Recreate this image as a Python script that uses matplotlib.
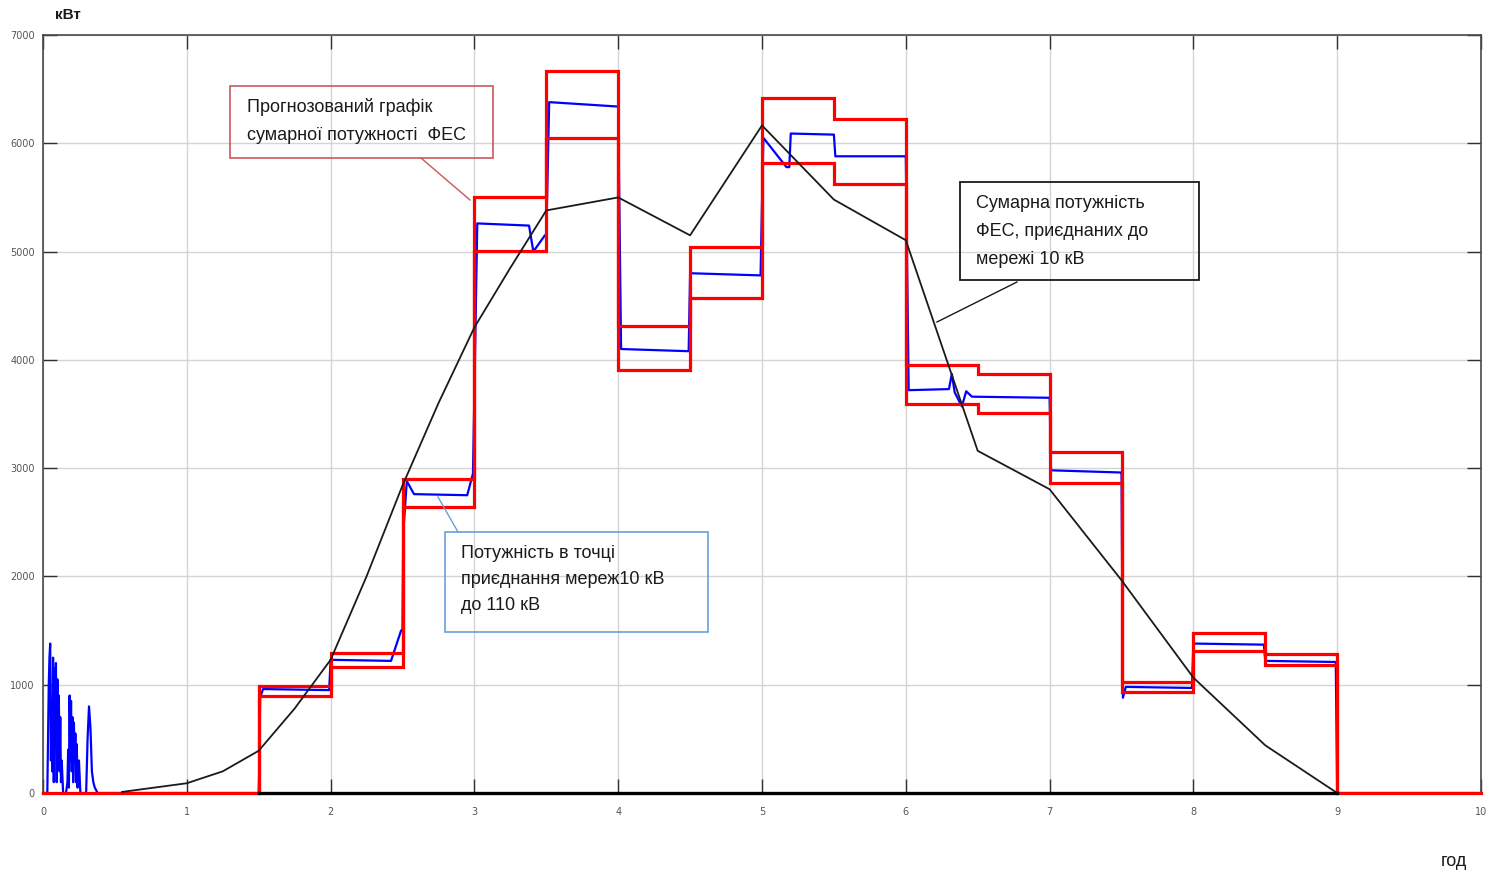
import matplotlib
matplotlib.use("Agg")
import matplotlib.pyplot as plt
from matplotlib.patches import Rectangle
from matplotlib.lines import Line2D

# ---------------- data ----------------
# half-hour forecast band (red): segment edges, upper and lower limits, kW
band_edges = [1.5, 2.0, 2.5, 3.0, 3.5, 4.0, 4.5, 5.0, 5.5, 6.0, 6.5, 7.0, 7.5, 8.0, 8.5, 9.0]
band_upper = [985, 1290, 2900, 5504, 6667, 4312, 5042, 6418, 6220, 3950, 3865, 3149, 1025, 1477, 1283]
band_lower = [900, 1165, 2640, 5004, 6045, 3906, 4571, 5818, 5624, 3592, 3509, 2863, 933, 1311, 1182]

# total power of PV plants connected to 10 kV (black)
pv_t = [0.55, 1.0, 1.25, 1.5, 1.75, 2.0, 2.25, 2.5, 2.75, 3.0, 3.25, 3.5, 4.0, 4.5, 5.0,
        5.5, 6.0, 6.5, 7.0, 7.5, 8.0, 8.5, 9.0]
pv_v = [10, 90, 200, 390, 780, 1230, 2000, 2840, 3600, 4300, 4850, 5380, 5500, 5150, 6165,
        5480, 5105, 3160, 2805, 1965, 1065, 440, 0]

# power at the 10/110 kV connection point (blue)
meas_t = [0.0, 0.03, 0.04, 0.045, 0.05, 0.055, 0.06, 0.065, 0.07, 0.075, 0.08, 0.085, 0.09,
          0.095, 0.10, 0.105, 0.11, 0.115, 0.12, 0.125, 0.13, 0.14, 0.16, 0.17, 0.175, 0.18,
          0.185, 0.19, 0.195, 0.20, 0.205, 0.21, 0.215, 0.22, 0.225, 0.23, 0.235, 0.24, 0.25,
          0.26, 0.30, 0.31, 0.32, 0.33, 0.34, 0.35, 0.36, 0.38,
          1.50, 1.505, 1.51, 1.53, 1.99, 2.00, 2.42, 2.49, 2.50, 2.505, 2.53, 2.58, 2.95, 2.99,
          3.00, 3.02, 3.38, 3.41, 3.49, 3.50, 3.52, 3.99, 4.00, 4.02, 4.49, 4.50, 4.99, 5.00,
          5.01, 5.17, 5.19, 5.20, 5.50, 5.51, 5.99, 6.00, 6.02, 6.30, 6.32, 6.34, 6.39, 6.42,
          6.46, 6.99, 7.00, 7.01, 7.49, 7.50, 7.51, 7.53, 7.99, 8.00, 8.49, 8.50, 8.99, 9.00, 10.0]
meas_v = [0, 0, 1000, 1250, 1380, 300, 800, 200, 1250, 100, 1150, 600, 1200,
          100, 1050, 400, 900, 200, 700, 100, 300, 0, 0, 100, 400, 50,
          900, 300, 850, 200, 700, 100, 650, 300, 550, 100, 450, 50, 300,
          0, 0, 500, 800, 600, 200, 100, 50, 0,
          0, 300, 880, 960, 950, 1230, 1220, 1500, 1500, 2400, 2880, 2760, 2750, 2950,
          3700, 5260, 5240, 5000, 5150, 5150, 6380, 6340, 6340, 4100, 4080, 4800, 4780, 5450,
          6050, 5780, 5780, 6090, 6080, 5880, 5880, 5880, 3720, 3730, 3870, 3700, 3570, 3710,
          3660, 3650, 3650, 2980, 2960, 2960, 880, 980, 970, 1380, 1370, 1220, 1210, 0, 0]

x_ticks = list(range(0, 11))
y_ticks = list(range(0, 7001, 1000))

# ---------------- figure ----------------
W, H = 1495, 876
fig = plt.figure(figsize=(W / 100, H / 100), dpi=100)
fig.patch.set_facecolor("white")

AX_L, AX_R, AX_T, AX_B = 43, 1481, 35, 793
ax = fig.add_axes([AX_L / W, 1 - AX_B / H, (AX_R - AX_L) / W, (AX_B - AX_T) / H])
ax.set_xlim(0, 10)
ax.set_ylim(0, 7000)
ax.set_xticks(x_ticks)
ax.set_yticks(y_ticks)
ax.grid(True, color="#d4d4d4", lw=1.0)
ax.set_axisbelow(True)
ax.tick_params(direction="in", length=10, width=1.0, color="#303030",
               labelsize=7, labelcolor="#555555", top=True, right=True)
ax.tick_params(axis="x", pad=10)
ax.tick_params(axis="y", pad=6)
for s in ax.spines.values():
    s.set_color("#4a4a4a")
    s.set_linewidth(1.2)

# red band: upper and lower step outlines
up_x, up_y = [0, band_edges[0]], [0, 0]
lo_x, lo_y = [band_edges[0]], [0]
for i in range(len(band_upper)):
    up_x += [band_edges[i], band_edges[i + 1]]
    up_y += [band_upper[i], band_upper[i]]
    lo_x += [band_edges[i], band_edges[i + 1]]
    lo_y += [band_lower[i], band_lower[i]]
up_x += [band_edges[-1], 10]
up_y += [0, 0]
lo_x += [band_edges[-1]]
lo_y += [0]

ax.plot(meas_t, meas_v, color="#0000ff", lw=1.6, zorder=3, clip_on=False)
ax.plot(up_x, up_y, color="#ff0000", lw=2.3, zorder=4, solid_joinstyle="miter", clip_on=False)
ax.plot(lo_x, lo_y, color="#ff0000", lw=2.3, zorder=4, solid_joinstyle="miter", clip_on=False)
ax.plot(pv_t, pv_v, color="#1a1a1a", lw=1.3, zorder=5)
ax.plot([band_edges[0], band_edges[-1]], [0, 0], color="#000000", lw=2.4, zorder=5, clip_on=False)

# ---------------- annotations (figure-pixel placement) ----------------
def fx(px):
    return px / W

def fy(py):
    return 1 - py / H

FONT = ["Liberation Sans Narrow", "Liberation Sans", "DejaVu Sans"]

def box(x0, y0, x1, y1, color, lw):
    fig.add_artist(Rectangle((fx(x0), fy(y1)), fx(x1) - fx(x0), fy(y0) - fy(y1),
                             transform=fig.transFigure, fill=False, ec=color, lw=lw, zorder=10))

def conn(x0, y0, x1, y1, color):
    fig.add_artist(Line2D([fx(x0), fx(x1)], [fy(y0), fy(y1)], transform=fig.transFigure,
                          color=color, lw=1.0, zorder=10))

def lines(x, ys, texts):
    for y, t in zip(ys, texts):
        fig.text(fx(x), fy(y), t, ha="left", va="center", fontsize=13,
                 family=FONT, color="#1a1a1a", zorder=11)

box(230, 86, 493, 158, "#c9585a", 1.2)
conn(421, 158, 470, 200, "#c9585a")
lines(247, [107, 135], ["Прогнозований графік", "сумарної потужності  ФЕС"])

box(960, 182, 1199, 280, "#1a1a1a", 1.3)
conn(1017, 282, 937, 322, "#1a1a1a")
lines(976, [204, 232, 260], ["Сумарна потужність", "ФЕС, приєднаних до", "мережі 10 кВ"])

box(445, 532, 708, 632, "#6a9fd8", 1.2)
conn(458, 532, 438, 497, "#6a9fd8")
lines(461, [553, 579, 605], ["Потужність в точці", "приєднання мереж10 кВ", "до 110 кВ"])

fig.text(fx(55), fy(15), "кВт", ha="left", va="center", fontsize=11, weight="bold",
         family=FONT, color="#1a1a1a")
fig.text(fx(1441), fy(862), "год", ha="left", va="center", fontsize=13,
         family=FONT, color="#1a1a1a")

fig.savefig("out.png", dpi=100)
